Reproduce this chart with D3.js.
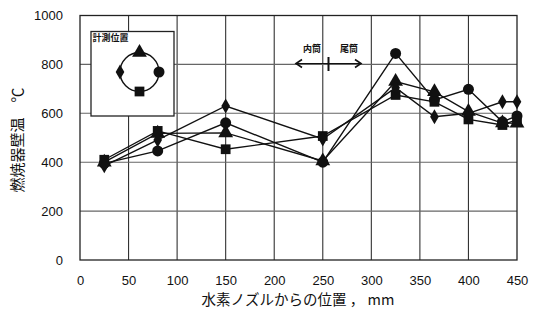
<!DOCTYPE html>
<html><head><meta charset="utf-8">
<script src="https://cdn.jsdelivr.net/npm/d3@7"></script>
<style>body{margin:0;background:#fff}svg{display:block}</style>
</head><body>
<script>
const positions = [25, 80, 150, 250, 325, 365, 400, 435, 450];
const circleVals = [395, 446, 561, 400, 845, 655, 698, 565, 589];
const squareVals = [410, 528, 453, 507, 675, 647, 575, 552, 575];
const triangleVals = [400, 518, 520, 405, 730, 688, 607, 560, 559];
const diamondVals = [385, 491, 630, 495, 705, 586, 600, 647, 647];
const xTicks = [0, 50, 100, 150, 200, 250, 300, 350, 400, 450];
const yTicks = [0, 200, 400, 600, 800, 1000];
const xTitle = "水素ノズルからの位置 ， mm";
const yTitle = "燃焼器壁温　℃";
const insetTitle = "計測位置";
const innerLabel = "内筒", tailLabel = "尾筒";

const W = 539, H = 323;
const svg = d3.select("body").append("svg").attr("width", W).attr("height", H);
const x = d3.scaleLinear().domain([0, 450]).range([80, 517]);
const y = d3.scaleLinear().domain([0, 1000]).range([260, 15.5]);
const numFont = "'Liberation Sans', Arial, sans-serif";
const jpFont = "'Noto Sans CJK JP', sans-serif";

// grid
const g = svg.append("g");
g.selectAll(".vg").data(d3.range(50, 450, 50)).enter().append("line")
  .attr("x1", d => x(d)).attr("x2", d => x(d)).attr("y1", y(1000)).attr("y2", y(0))
  .attr("stroke", "#333").attr("stroke-width", 1.1);
g.selectAll(".hg").data([200, 400, 600, 800]).enter().append("line")
  .attr("y1", d => y(d)).attr("y2", d => y(d)).attr("x1", x(0)).attr("x2", x(450))
  .attr("stroke", "#666").attr("stroke-width", 1.1);
g.append("rect").attr("x", x(0)).attr("y", y(1000)).attr("width", x(450) - x(0)).attr("height", y(0) - y(1000))
  .attr("fill", "none").attr("stroke", "#222").attr("stroke-width", 1.3);

// axes (labels only)
const xAxis = svg.append("g").attr("transform", `translate(0,${y(0)})`)
  .call(d3.axisBottom(x).tickValues(xTicks).tickFormat(d3.format("d")).tickSize(0).tickPadding(16));
xAxis.select(".domain").remove();
xAxis.selectAll("text").attr("font-family", numFont).attr("font-size", 13).attr("fill", "#111");
const yAxis = svg.append("g").attr("transform", `translate(${x(0)},0)`)
  .call(d3.axisLeft(y).tickValues(yTicks).tickFormat(d3.format("d")).tickSize(0).tickPadding(17));
yAxis.select(".domain").remove();
yAxis.selectAll("text").attr("font-family", numFont).attr("font-size", 13).attr("fill", "#111");

svg.append("text").attr("x", 298).attr("y", 305).attr("text-anchor", "middle")
  .attr("font-family", jpFont).attr("font-size", 14.5).attr("fill", "#111").text(xTitle);
svg.append("text").attr("transform", "translate(23,140) rotate(-90)").attr("text-anchor", "middle")
  .attr("font-family", jpFont).attr("font-size", 15).attr("fill", "#111").text(yTitle);

// inset
const inset = svg.append("g");
inset.append("rect").attr("x", 91).attr("y", 31.5).attr("width", 83).attr("height", 84.5)
  .attr("fill", "#fff").attr("stroke", "#222").attr("stroke-width", 1.3);
inset.append("text").attr("x", 92.5).attr("y", 41).attr("font-family", jpFont).attr("font-weight", "bold")
  .attr("font-size", 9).attr("fill", "#111").text(insetTitle);
const cx = 139.5, cy = 72, r = 19.5;
inset.append("circle").attr("cx", cx).attr("cy", cy).attr("r", r).attr("fill", "none").attr("stroke", "#111").attr("stroke-width", 1.4);

// series
const series = [
  {name: "circle", vals: circleVals, sym: d3.symbolCircle, size: 95, pos: [cx + r, cy]},
  {name: "square", vals: squareVals, sym: d3.symbolSquare, size: 95, pos: [cx, cy + r]},
  {name: "triangle", vals: triangleVals, sym: d3.symbolTriangle, size: 95, pos: [cx, cy - r]},
  {name: "diamond", vals: diamondVals, sym: d3.symbolDiamond, size: 65, pos: [cx - r, cy]}
];
series.forEach(s => {
  inset.append("path").attr("d", d3.symbol(s.sym, s.size)()).attr("transform", `translate(${s.pos[0]},${s.pos[1]})`).attr("fill", "#111");
});

const line = d3.line().x((d, i) => x(positions[i])).y(d => y(d));
const lg = svg.append("g");
series.forEach(s => {
  lg.append("path").attr("d", line(s.vals)).attr("fill", "none").attr("stroke", "#111").attr("stroke-width", 1.4);
});
series.forEach(s => {
  lg.selectAll(null).data(s.vals).enter().append("path")
    .attr("d", d3.symbol(s.sym, s.size)())
    .attr("transform", (d, i) => `translate(${x(positions[i])},${y(d)})`).attr("fill", "#111");
});

// annotation
const ann = svg.append("g").attr("stroke", "#111").attr("fill", "none");
const ay = 63.5;
ann.append("line").attr("x1", 296).attr("x2", 361).attr("y1", ay).attr("y2", ay).attr("stroke-width", 1.2);
ann.append("path").attr("d", `M302,${ay - 4} L296,${ay} L302,${ay + 4}`).attr("stroke-width", 1.6);
ann.append("path").attr("d", `M355,${ay - 4} L361,${ay} L355,${ay + 4}`).attr("stroke-width", 1.6);
ann.append("line").attr("x1", 328.5).attr("x2", 328.5).attr("y1", 57).attr("y2", 71).attr("stroke-width", 2);
svg.append("text").attr("x", 312).attr("y", 52).attr("text-anchor", "middle").attr("font-family", jpFont)
  .attr("font-weight", "bold").attr("font-size", 9).attr("fill", "#111").text(innerLabel);
svg.append("text").attr("x", 349).attr("y", 52).attr("text-anchor", "middle").attr("font-family", jpFont)
  .attr("font-weight", "bold").attr("font-size", 9).attr("fill", "#111").text(tailLabel);
</script>
</body></html>
